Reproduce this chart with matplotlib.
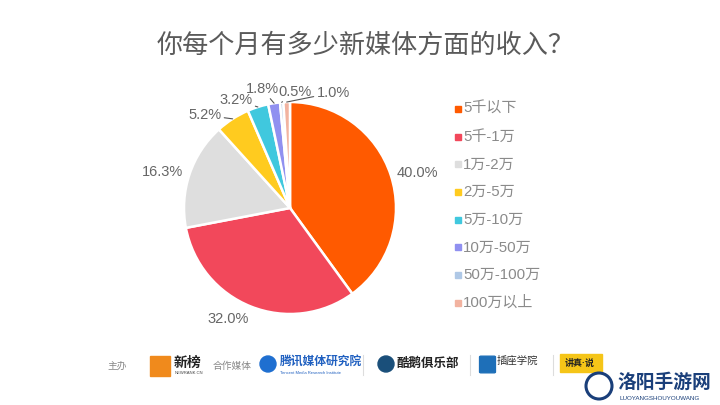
import numpy as np
import matplotlib.pyplot as plt
from matplotlib.patches import Rectangle, Ellipse, FancyBboxPatch

plt.rcParams['font.family'] = ['Liberation Sans', 'Noto Sans CJK SC', 'DejaVu Sans']

title = "你每个月有多少新媒体方面的收入？"
categories = ["5千以下", "5千-1万", "1万-2万", "2万-5万", "5万-10万",
              "10万-50万", "50万-100万", "100万以上"]
shares = [40.0, 32.0, 16.3, 5.2, 3.2, 1.8, 0.5, 1.0]
colors = ["#FF5A00", "#F2485B", "#DEDEDE", "#FFCB1F", "#40C8DE",
          "#9090F0", "#AFC8E6", "#F2B3A0"]

# label tweaks (radius, angle shift in degrees) to keep the small ones apart
label_r = [1.06, 1.06, 1.06, 1.14, 1.08, 1.09, 1.03, 1.10]
label_shift = [0, 0, 0, 12, 10.5, 5.4, -7, -23.5]

fig = plt.figure(figsize=(7.2, 4.05), dpi=100)
fig.patch.set_facecolor("white")

W, H = 720, 405
cx, cy, rad = 290, 208, 106
ax = fig.add_axes([(cx - rad) / W, (H - cy - rad) / H, 2 * rad / W, 2 * rad / H])
wedges, _ = ax.pie(shares, colors=colors, startangle=90, counterclock=False,
                   wedgeprops=dict(edgecolor="white", linewidth=1.8))
ax.set_xlim(-1, 1)
ax.set_ylim(-1, 1)
ax.set_aspect("equal")
ax.axis("off")

for i, w in enumerate(wedges):
    mid = (w.theta1 + w.theta2) / 2
    a = np.deg2rad(mid + label_shift[i])
    r = label_r[i]
    tx, ty = r * np.cos(a), r * np.sin(a)
    txt = f"{shares[i]:.1f}%"
    if shares[i] < 6:
        m = np.deg2rad(mid)
        ax.annotate(txt, xy=(np.cos(m), np.sin(m)), xytext=(tx, ty),
                    ha="center", va="bottom", fontsize=10.5, color="#666666",
                    annotation_clip=False,
                    arrowprops=dict(arrowstyle="-", color="#555555", lw=0.8,
                                    shrinkA=0, shrinkB=0))
    else:
        ha = "left" if tx > 0.3 else ("right" if tx < -0.3 else "center")
        va = "top" if ty < -0.6 else ("bottom" if ty > 0.6 else "center")
        ax.text(tx, ty, txt, ha=ha, va=va, fontsize=10.5,
                color="#666666", clip_on=False)

fig.text(366 / W, 1 - 45 / H, title, ha="center", va="center", fontsize=18.8,
         color="#5A5A5A")

# legend
lx, ly0, dy = 458, 109, 27.7
for i, lab in enumerate(categories):
    y = ly0 + i * dy
    fig.patches.append(Rectangle(((lx - 3) / W, 1 - (y + 3) / H), 6 / W, 6 / H,
                                 transform=fig.transFigure, color=colors[i]))
    fig.text((lx + 5) / W, 1 - y / H, lab, ha="left", va="center",
             fontsize=10.8, color="#8A8A8A")


# footer
def ftext(x, y, s, **kw):
    fig.text(x / W, 1 - y / H, s, va="center", **kw)


def dot(x, y, d, **kw):
    fig.patches.append(Ellipse((x / W, 1 - y / H), d / W, d / H,
                               transform=fig.transFigure, **kw))


ftext(107, 366, "主办", fontsize=7, color="#888888")
fig.patches.append(Rectangle((150 / W, 1 - 376 / H), 20 / W, 20 / H,
                             transform=fig.transFigure, color="#F08A1C"))
ftext(174, 363, "新榜", fontsize=10, color="#222222", fontweight="bold")
ftext(175, 373, "NEWRANK.CN", fontsize=3, color="#444444")
ftext(213, 366, "合作媒体", fontsize=7, color="#888888")
dot(268, 364, 16, color="#1F6FD0")
ftext(280, 362, "腾讯媒体研究院", fontsize=8.5, color="#2060C0",
      fontweight="bold", style="italic")
ftext(280, 373, "Tencent Media Research Institute", fontsize=3,
      color="#2060C0")
dot(386, 364, 16, color="#1A4F7A")
ftext(396, 364, "酷鹅俱乐部", fontsize=9, color="#222222", fontweight="bold")
fig.patches.append(FancyBboxPatch((481 / W, 1 - 372 / H), 13 / W, 15 / H,
                                  boxstyle="round,pad=0.002",
                                  transform=fig.transFigure, color="#1E6FB8"))
ftext(497, 361, "插座学院", fontsize=7.5, color="#333333")
fig.patches.append(Rectangle((560 / W, 1 - 372 / H), 42 / W, 18 / H,
                             transform=fig.transFigure, color="#F5C518"))
ftext(565, 363, "讲真·说", fontsize=6.5, color="#222222", fontweight="bold")
for sx in [363, 470, 553]:
    fig.add_artist(plt.Line2D([sx / W, sx / W], [1 - 355 / H, 1 - 375 / H],
                              transform=fig.transFigure, color="#DDDDDD",
                              lw=0.8))

# watermark
dot(599, 386, 26, fill=False, edgecolor="#1A3F7A", lw=2.2)
ftext(617, 383, "洛阳手游网", fontsize=13.5, color="#1A3F7A", fontweight="bold")
ftext(619, 398, "LUOYANGSHOUYOUWANG", fontsize=4.5, color="#1A3F7A")

fig.savefig("out.png", dpi=100)
